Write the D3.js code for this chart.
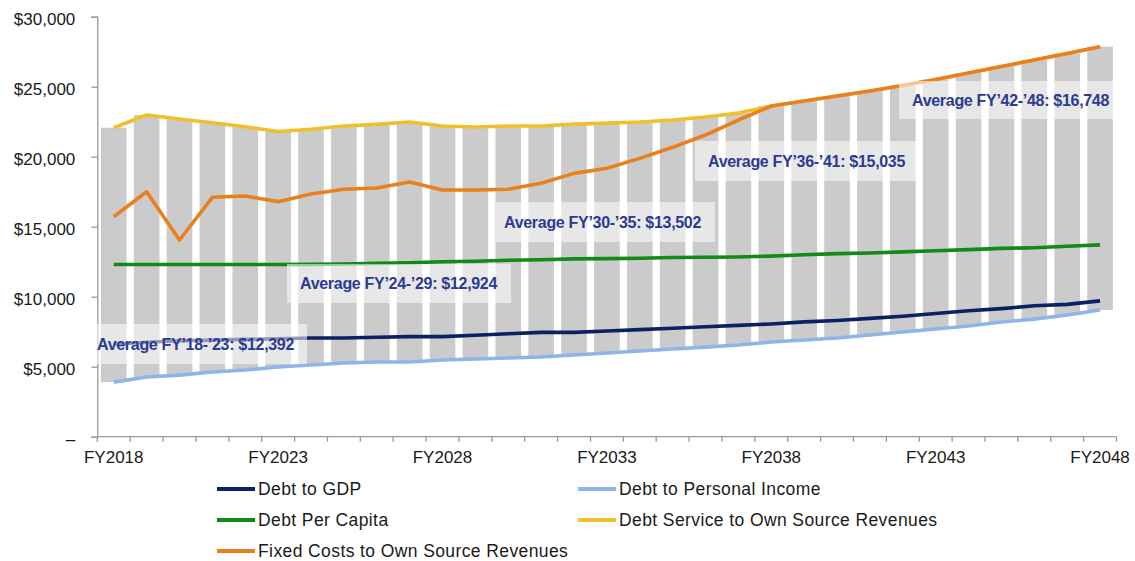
<!DOCTYPE html>
<html>
<head>
<meta charset="utf-8">
<script src="https://cdn.jsdelivr.net/npm/d3@7/dist/d3.min.js"></script>
<style>
  html, body { margin: 0; padding: 0; background: #fff; }
  svg { display: block; font-family: Arial, "Liberation Sans", Helvetica, sans-serif; }
</style>
</head>
<body>
<svg id="chart" width="1135" height="561"></svg>
<script>
// ---------------- DATA ----------------
const years = d3.range(2018, 2049).map(y => "FY" + y);
const xTickLabels = ["FY2018", "FY2023", "FY2028", "FY2033", "FY2038", "FY2043", "FY2048"];
const yTickValues = [0, 5000, 10000, 15000, 20000, 25000, 30000];

const debtToGDP = [6600, 6750, 6850, 6900, 6950, 7000, 7050, 7050, 7100, 7150, 7150, 7250, 7350, 7450, 7450, 7550,
  7650, 7750, 7850, 7950, 8050, 8200, 8300, 8450, 8600, 8800, 9000, 9150, 9350, 9450, 9700];
const debtToPersonalIncome = [3900, 4260, 4400, 4620, 4760, 4980, 5120, 5260, 5340, 5340, 5480, 5550, 5620, 5690, 5840, 5980,
  6120, 6260, 6400, 6550, 6760, 6910, 7050, 7260, 7480, 7690, 7910, 8190, 8400, 8690, 9050];
const debtPerCapita = [12300, 12300, 12300, 12300, 12300, 12300, 12310, 12340, 12380, 12420, 12500, 12530, 12600, 12640, 12700, 12720,
  12750, 12800, 12820, 12840, 12900, 13000, 13080, 13120, 13200, 13280, 13360, 13450, 13500, 13600, 13700];
const debtServiceToOSR = [22070, 22980, 22690, 22430, 22140, 21790, 21960, 22190, 22310, 22480, 22190, 22120, 22190, 22190, 22330, 22400,
  22480, 22620, 22830, 23120, 23620, 23980, 24330, 24690, 25080, 25520, 25980, 26440, 26900, 27370, 27860];
const fixedCostsToOSR = [15710, 17500, 14050, 17100, 17190, 16790, 17340, 17670, 17760, 18190, 17620, 17620, 17670, 18100, 18810, 19170,
  19880, 20670, 21550, 22620, 23620, 23980, 24330, 24690, 25080, 25520, 25980, 26440, 26900, 27370, 27860];

const seriesNames = ["Debt to GDP", "Debt to Personal Income", "Debt Per Capita",
  "Debt Service to Own Source Revenues", "Fixed Costs to Own Source Revenues"];
const seriesValues = [debtToGDP, debtToPersonalIncome, debtPerCapita, debtServiceToOSR, fixedCostsToOSR];
const seriesColors = ["#0A2163", "#8DB6E8", "#118A17", "#F0C02A", "#E9801D"];

const averageLabels = [
  "Average FY\u201918-\u201923: $12,392",
  "Average FY\u201924-\u201929: $12,924",
  "Average FY\u201930-\u201935: $13,502",
  "Average FY\u201936-\u201941: $15,035",
  "Average FY\u201942-\u201948: $16,748"
];

// ---------------- LAYOUT ----------------
const svg = d3.select("#chart");
const plot = { left: 97.3, right: 1116.5, top: 16.7, bottom: 436.7 };
const boxLayout = [
  { x: 95,  y: 324, w: 212, h: 40, tx: 97 },
  { x: 287, y: 264, w: 224, h: 39, tx: 300 },
  { x: 496, y: 202, w: 219, h: 40, tx: 504 },
  { x: 695, y: 141, w: 221, h: 40, tx: 708 },
  { x: 899, y: 81,  w: 221, h: 38, tx: 912 }
];

const x = d3.scaleBand().domain(years).range([plot.left, plot.right])
  .paddingInner(0.22).paddingOuter(0.11);
const y = d3.scaleLinear().domain([0, 30000]).range([plot.bottom, plot.top]);
const step = x.step();
const cx = d => x(d) + x.bandwidth() / 2;

// ---------------- RANGE BARS ----------------
const barLow = years.map((_, i) => d3.min(seriesValues, s => s[i]));
const barHigh = years.map((_, i) => d3.max(seriesValues, s => s[i]));

svg.append("g").selectAll("rect").data(years).join("rect")
  .attr("x", d => x(d))
  .attr("width", x.bandwidth())
  .attr("y", (d, i) => y(barHigh[i]))
  .attr("height", (d, i) => y(barLow[i]) - y(barHigh[i]))
  .attr("fill", "#CBCBCB");

// ---------------- AXES ----------------
const yAxis = d3.axisLeft(y).tickValues(yTickValues).tickSize(6).tickPadding(16)
  .tickFormat(d => d === 0 ? "\u2013" : "$" + d3.format(",")(d));
const gy = svg.append("g").attr("transform", `translate(${plot.left},0)`).call(yAxis);
gy.select(".domain").attr("stroke", "#9a9a9a").attr("stroke-width", 1.3);
gy.selectAll(".tick line").attr("stroke", "#9a9a9a").attr("stroke-width", 1.3);
gy.selectAll(".tick text").attr("fill", "#1a1a1a").style("font-size", "17px").attr("dy", "0.45em");

// x axis
const gx = svg.append("g");
gx.append("line").attr("x1", plot.left).attr("x2", plot.right)
  .attr("y1", plot.bottom).attr("y2", plot.bottom)
  .attr("stroke", "#9a9a9a").attr("stroke-width", 1.3);
const boundaries = years.map(d => x(d) - step * x.paddingInner() / 2)
  .concat([x(years[years.length - 1]) + x.bandwidth() + step * x.paddingInner() / 2]);
gx.selectAll("line.tk").data(boundaries).join("line").attr("class", "tk")
  .attr("x1", d => d).attr("x2", d => d)
  .attr("y1", plot.bottom).attr("y2", plot.bottom + 5)
  .attr("stroke", "#9a9a9a").attr("stroke-width", 1.3);
gx.selectAll("text").data(xTickLabels).join("text")
  .attr("x", d => cx(d)).attr("y", plot.bottom + 26.5)
  .attr("text-anchor", "middle").attr("fill", "#1a1a1a")
  .style("font-size", "17px").text(d => d);

// ---------------- LINES ----------------
const line = d3.line().x((d, i) => cx(years[i])).y(d => y(d));
const drawOrder = [1, 0, 2, 3, 4];
svg.append("g").selectAll("path").data(drawOrder).join("path")
  .attr("d", k => line(seriesValues[k]))
  .attr("fill", "none")
  .attr("stroke", k => seriesColors[k])
  .attr("stroke-width", 3.6)
  .attr("stroke-linejoin", "round");

// ---------------- AVERAGE BOXES ----------------
const ann = svg.append("g");
ann.selectAll("rect").data(averageLabels).join("rect")
  .attr("x", (d, i) => boxLayout[i].x).attr("y", (d, i) => boxLayout[i].y)
  .attr("width", (d, i) => boxLayout[i].w).attr("height", (d, i) => boxLayout[i].h)
  .attr("fill", "#ffffff").attr("fill-opacity", 0.55);
ann.selectAll("text").data(averageLabels).join("text")
  .attr("x", (d, i) => boxLayout[i].tx)
  .attr("y", (d, i) => boxLayout[i].y + boxLayout[i].h / 2 + 5.8)
  .attr("fill", "#2B3A92")
  .style("font-size", "16px").style("font-weight", "bold").style("letter-spacing", "-0.3px")
  .text(d => d);

// ---------------- LEGEND ----------------
const legendPos = [
  { x: 217, y: 489 }, { x: 578, y: 489 },
  { x: 217, y: 520 }, { x: 578, y: 520 },
  { x: 217, y: 551 }
];
const lg = svg.append("g");
const items = lg.selectAll("g").data(seriesNames).join("g")
  .attr("transform", (d, i) => `translate(${legendPos[i].x},${legendPos[i].y})`);
items.append("line").attr("x1", 0).attr("x2", 38).attr("y1", 0).attr("y2", 0)
  .attr("stroke", (d, i) => seriesColors[i]).attr("stroke-width", 4);
items.append("text").attr("x", 41).attr("y", 6.3)
  .attr("fill", "#1a1a1a").style("font-size", "17.5px").style("letter-spacing", "0.4px")
  .text(d => d);
</script>
</body>
</html>
